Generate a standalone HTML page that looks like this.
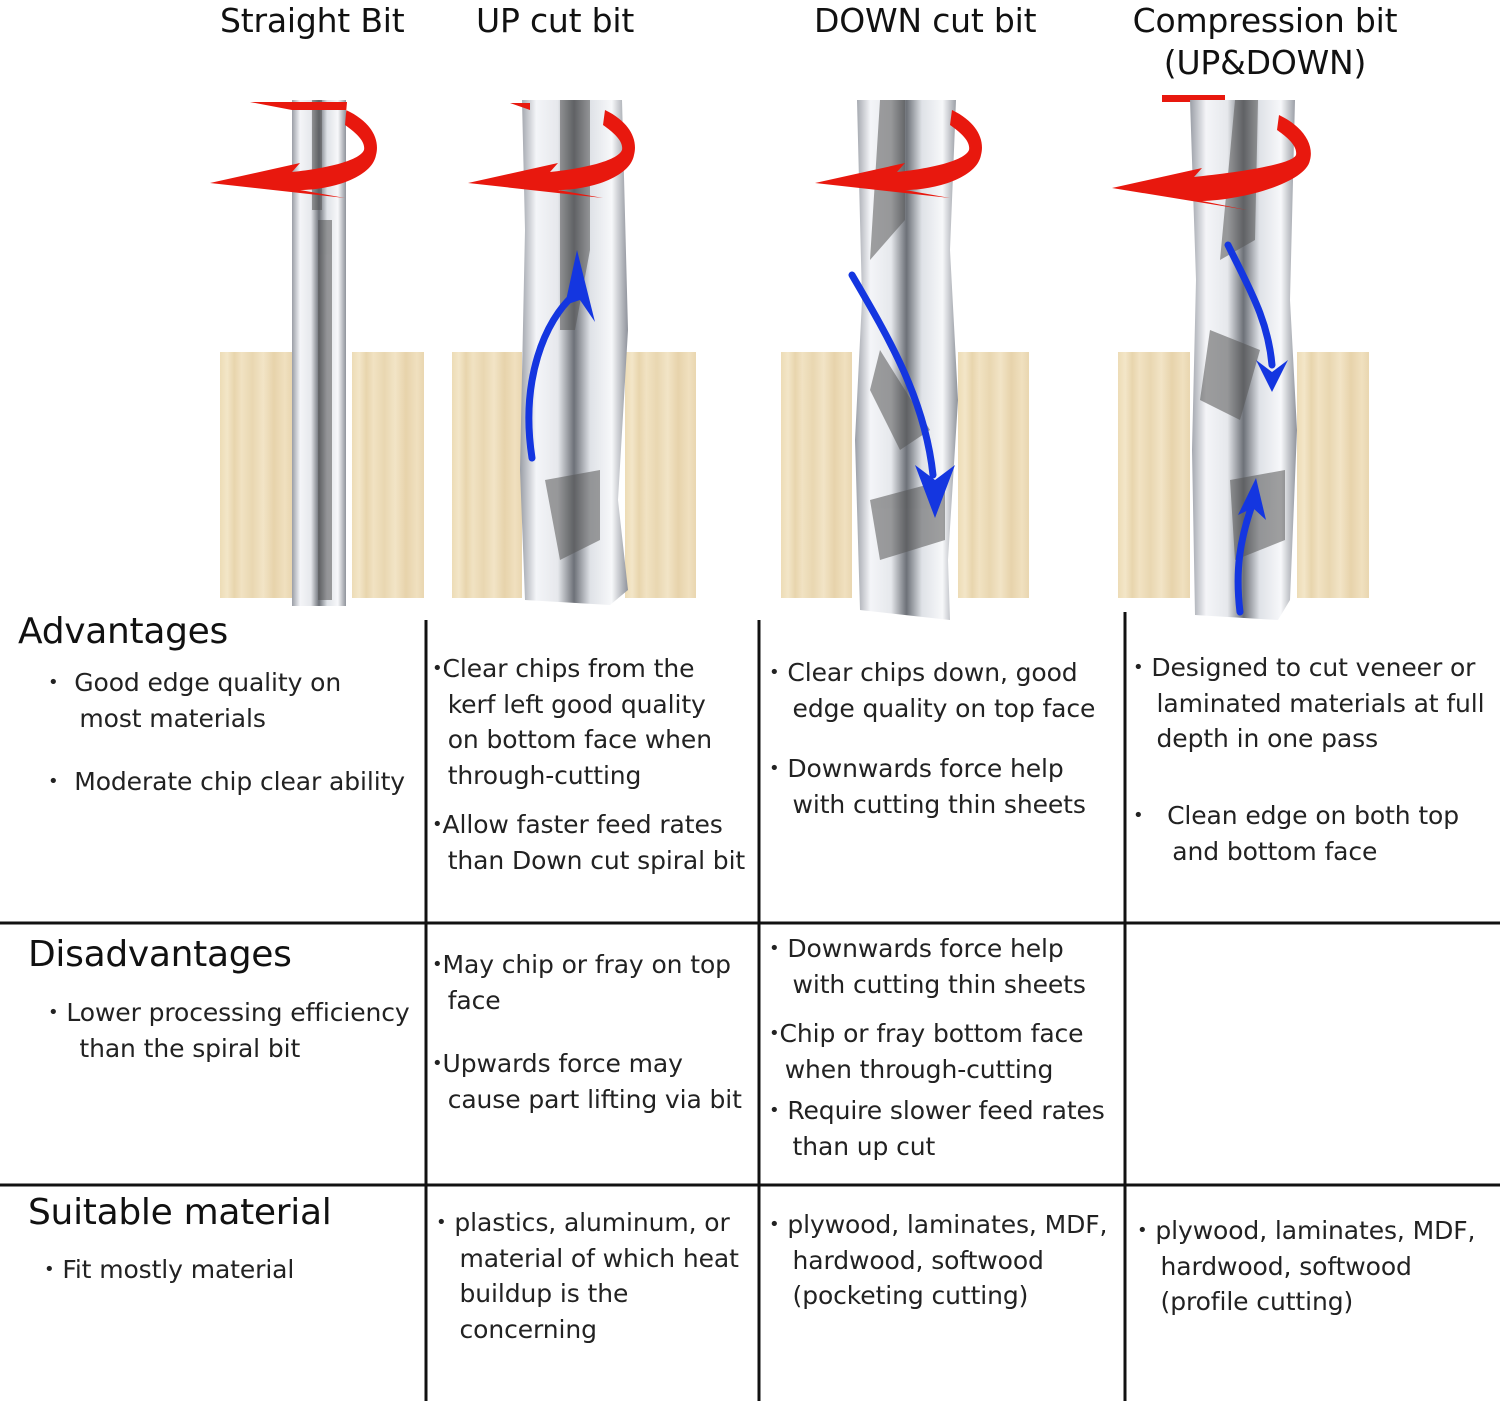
<!DOCTYPE html>
<html><head><meta charset="utf-8"><style>
body{margin:0;background:#fff;}
#c{position:relative;width:1500px;height:1401px;overflow:hidden;font-family:"DejaVu Sans","Liberation Sans",sans-serif;color:#222;}
.t{position:absolute;white-space:nowrap;font-size:25px;line-height:35.5px;letter-spacing:-0.1px;}
.t i{font-style:normal;font-size:18px;vertical-align:3px;}
.h{position:absolute;white-space:nowrap;font-size:36px;letter-spacing:-0.3px;color:#111;}
.hd{position:absolute;white-space:nowrap;font-size:33px;letter-spacing:-0.2px;color:#111;text-align:center;line-height:42px;}
svg{position:absolute;left:0;top:0;}
</style></head><body><div id="c">
<svg width="1500" height="1401">
<defs>
<linearGradient id="w" x1="0" x2="1" y1="0" y2="0">
<stop offset="0" stop-color="#eddcb6"/><stop offset=".1" stop-color="#f3e6c8"/><stop offset=".2" stop-color="#e8d5ad"/><stop offset=".3" stop-color="#f1e2c2"/><stop offset=".45" stop-color="#e9d7b1"/><stop offset=".6" stop-color="#f2e4c6"/><stop offset=".75" stop-color="#e7d3ab"/><stop offset=".9" stop-color="#f0e0bf"/><stop offset="1" stop-color="#e9d6b0"/></linearGradient>
<linearGradient id="m" x1="0" x2="1" y1="0" y2="0">
<stop offset="0" stop-color="#9a9ea6"/><stop offset=".15" stop-color="#f4f5f8"/><stop offset=".35" stop-color="#e6e8ec"/><stop offset=".5" stop-color="#6d7178"/><stop offset=".65" stop-color="#dfe2e7"/><stop offset=".85" stop-color="#f7f8fa"/><stop offset="1" stop-color="#8f939b"/></linearGradient>
</defs>
<g fill="url(#w)">
<rect x="220" y="352" width="72" height="246"/><rect x="352" y="352" width="72" height="246"/>
<rect x="452" y="352" width="70" height="246"/><rect x="625" y="352" width="71" height="246"/>
<rect x="781" y="352" width="71" height="246"/><rect x="958" y="352" width="71" height="246"/>
<rect x="1118" y="352" width="72" height="246"/><rect x="1297" y="352" width="72" height="246"/>
</g>
<path fill="#e8180e" d="M1162,95 L1225,95 L1225,102 L1162,102 Z"/>
<g fill="url(#m)">
<rect x="292" y="100" width="54" height="506"/>
<path d="M522,100 L622,100 L628,330 L618,500 L628,590 L610,605 L525,600 L520,470 L525,230 Z"/>
<path d="M857,100 L956,100 L950,250 L958,400 L948,560 L950,620 L860,610 L855,440 L862,300 Z"/>
<path d="M1190,100 L1295,100 L1290,300 L1297,430 L1290,600 L1278,620 L1195,615 L1192,450 L1196,280 Z"/>
</g>
<g fill="#555" opacity=".55">
<rect x="312" y="100" width="10" height="110"/><rect x="318" y="220" width="14" height="380"/>
<path d="M560,100 L590,100 L590,250 L575,330 L560,330 Z"/><path d="M545,480 L600,470 L600,540 L560,560 Z"/>
<path d="M880,100 L905,100 L905,220 L870,260 Z"/><path d="M880,350 L930,430 L900,450 L870,390 Z"/><path d="M870,500 L945,480 L945,540 L880,560 Z"/>
<path d="M1235,100 L1258,100 L1255,240 L1220,260 Z"/><path d="M1210,330 L1260,350 L1240,420 L1200,400 Z"/><path d="M1230,480 L1285,470 L1285,540 L1235,560 Z"/>
</g>
<g fill="#e8180e">
<path d="M210,183 L300,163 L292,172 C330,168 360,160 364,150 C366,140 352,130 345,125 L347,102 L250,102 L292,110 L346,110 C372,122 380,140 376,155 C372,178 330,190 300,190 L345,198 Z"/>
<path transform="translate(258,0)" d="M210,183 L300,163 L292,172 C330,168 360,160 364,150 C366,140 352,130 345,125 L347,110 C372,122 380,140 376,155 C372,178 330,190 300,190 L345,198 Z"/>
<path transform="translate(605,0)" d="M210,183 L300,163 L292,172 C330,168 360,160 364,150 C366,140 352,130 345,125 L347,110 C372,122 380,140 376,155 C372,178 330,190 300,190 L345,198 Z"/>
<path transform="translate(902,5)" d="M210,183 L300,163 L292,172 C330,168 390,160 394,150 C396,140 382,130 375,125 L377,110 C402,122 412,140 408,155 C404,178 340,195 300,196 L345,205 Z"/>
<path d="M510,103 L530,103 L530,110 Z"/>
</g>
<g fill="none" stroke="#1436e0" stroke-width="7" stroke-linecap="round">
<path d="M532,458 C520,380 545,320 574,295"/>
<path d="M852,275 C890,340 925,400 933,475"/>
<path d="M1228,245 C1250,290 1268,320 1272,365"/>
<path d="M1240,612 C1235,570 1240,540 1252,505"/>
</g>
<g fill="#1436e0">
<path d="M565,305 L577,250 L595,322 L580,300 Z"/>
<path d="M915,465 L935,518 L955,465 L935,480 Z"/>
<path d="M1256,360 L1272,392 L1288,360 L1272,372 Z"/>
<path d="M1238,515 L1256,478 L1266,520 L1253,508 Z"/>
</g>
<g stroke="#111" stroke-width="3">
<line x1="426" y1="620" x2="426" y2="1401"/><line x1="759" y1="620" x2="759" y2="1401"/><line x1="1125" y1="612" x2="1125" y2="1401"/>
<line x1="0" y1="923" x2="1500" y2="923"/><line x1="0" y1="1185" x2="1500" y2="1185"/>
</g>
</svg>
<div class="hd" style="left:220px;top:0">Straight Bit</div>
<div class="hd" style="left:476px;top:0">UP cut bit</div>
<div class="hd" style="left:814px;top:0">DOWN cut bit</div>
<div class="hd" style="left:1125px;top:0;width:280px">Compression bit<br>(UP&amp;DOWN)</div>

<div class="h" style="left:18px;top:611px">Advantages</div>
<div class="t" style="left:48px;top:665px"><i>•</i>&nbsp; Good edge quality  on<br>&nbsp;&nbsp;&nbsp;&nbsp;most materials</div>
<div class="t" style="left:48px;top:764px"><i>•</i>&nbsp; Moderate chip clear ability</div>
<div class="t" style="left:432px;top:651px"><i>•</i>Clear chips from the<br>&nbsp;&nbsp;kerf left good quality<br>&nbsp;&nbsp;on bottom face when<br>&nbsp;&nbsp;through-cutting</div>
<div class="t" style="left:432px;top:807px"><i>•</i>Allow faster feed rates<br>&nbsp;&nbsp;than Down cut spiral bit</div>
<div class="t" style="left:769px;top:655px"><i>•</i> Clear chips down, good<br>&nbsp;&nbsp;&nbsp;edge quality on top face</div>
<div class="t" style="left:769px;top:751px"><i>•</i> Downwards force help<br>&nbsp;&nbsp;&nbsp;with cutting thin sheets</div>
<div class="t" style="left:1133px;top:650px"><i>•</i> Designed to cut veneer or<br>&nbsp;&nbsp;&nbsp;laminated materials at full<br>&nbsp;&nbsp;&nbsp;depth in one pass</div>
<div class="t" style="left:1133px;top:798px"><i>•</i>&nbsp;&nbsp; Clean edge on both top<br>&nbsp;&nbsp;&nbsp;&nbsp;&nbsp;and bottom face</div>

<div class="h" style="left:28px;top:934px">Disadvantages</div>
<div class="t" style="left:48px;top:995px"><i>•</i> Lower processing efficiency<br>&nbsp;&nbsp;&nbsp;&nbsp;than the spiral bit</div>
<div class="t" style="left:432px;top:947px"><i>•</i>May chip or fray on top<br>&nbsp;&nbsp;face</div>
<div class="t" style="left:432px;top:1046px"><i>•</i>Upwards force may<br>&nbsp;&nbsp;cause part lifting via bit</div>
<div class="t" style="left:769px;top:931px"><i>•</i> Downwards force help<br>&nbsp;&nbsp;&nbsp;with cutting thin sheets</div>
<div class="t" style="left:769px;top:1016px"><i>•</i>Chip or fray bottom face<br>&nbsp;&nbsp;when through-cutting</div>
<div class="t" style="left:769px;top:1093px"><i>•</i> Require slower feed rates<br>&nbsp;&nbsp;&nbsp;than up cut</div>

<div class="h" style="left:28px;top:1192px">Suitable material</div>
<div class="t" style="left:44px;top:1252px"><i>•</i> Fit mostly material</div>
<div class="t" style="left:436px;top:1205px"><i>•</i> plastics, aluminum, or<br>&nbsp;&nbsp;&nbsp;material of which heat<br>&nbsp;&nbsp;&nbsp;buildup is the<br>&nbsp;&nbsp;&nbsp;concerning</div>
<div class="t" style="left:769px;top:1207px"><i>•</i> plywood, laminates, MDF,<br>&nbsp;&nbsp;&nbsp;hardwood, softwood<br>&nbsp;&nbsp;&nbsp;(pocketing cutting)</div>
<div class="t" style="left:1137px;top:1213px"><i>•</i> plywood, laminates, MDF,<br>&nbsp;&nbsp;&nbsp;hardwood, softwood<br>&nbsp;&nbsp;&nbsp;(profile cutting)</div>
</div></body></html>
